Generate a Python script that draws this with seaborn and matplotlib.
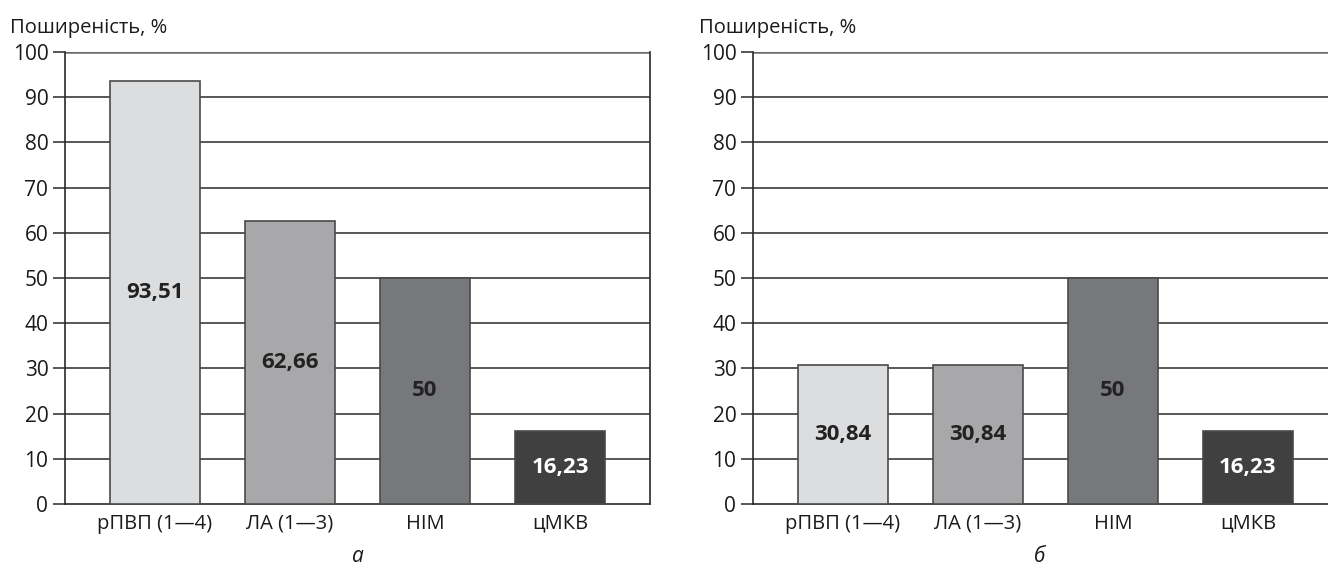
import seaborn as sns
import matplotlib.pyplot as plt
import pandas as pd

# data
categories = ["рПВП (1—4)", "ЛА (1—3)", "НІМ", "цМКВ"]
values_a = [93.51, 62.66, 50, 16.23]
values_b = [30.84, 30.84, 50, 16.23]
labels_a = ["93,51", "62,66", "50", "16,23"]
labels_b = ["30,84", "30,84", "50", "16,23"]
panel_names = ["а", "б"]
bar_colors = ["#dcdddf", "#a7a8ab", "#77787b", "#404040"]
label_colors = ["#222222", "#222222", "#222222", "#ffffff"]
y_ticks = list(range(0, 101, 10))

sns.set_theme(style="white")
plt.rcParams["font.family"] = ["Open Sans", "DejaVu Sans"]

fig = plt.figure(figsize=(13.28, 5.7), dpi=100)
ax_a = fig.add_axes([65 / 1328, 66 / 570, 585 / 1328, 452 / 570])
ax_b = fig.add_axes([753 / 1328, 66 / 570, 575 / 1328, 452 / 570])

panels = [
    (ax_a, values_a, labels_a, panel_names[0], 3.667, True),
    (ax_b, values_b, labels_b, panel_names[1], 3.594, False),
]

for ax, vals, labs, name, xmax, right_spine in panels:
    df = pd.DataFrame({"cat": categories, "val": vals})
    sns.barplot(data=df, x="cat", y="val", hue="cat", palette=bar_colors,
                width=0.667, edgecolor="#4a4a4a", linewidth=1.2,
                legend=False, zorder=3, ax=ax)

    # horizontal grid lines
    for t in y_ticks[1:]:
        ax.axhline(t, color="#6a6a6a" if t == 100 else "#2a2a2a",
                   lw=1.8 if t == 100 else 1.1, zorder=1)

    ax.set_xlim(-0.667, xmax)
    ax.set_ylim(0, 100)
    ax.set_yticks(y_ticks)
    ax.set_xlabel("")
    ax.set_ylabel("")
    ax.tick_params(axis="y", direction="out", length=9, width=1.1,
                   color="#2a2a2a", labelsize=15, pad=3, left=True)
    ax.tick_params(axis="x", length=0, labelsize=14.5, pad=7)
    for lab in ax.get_yticklabels() + ax.get_xticklabels():
        lab.set_color("#1a1a1a")

    ax.spines["top"].set_visible(False)
    ax.spines["right"].set_visible(right_spine)
    for s in ["left", "bottom", "right"]:
        ax.spines[s].set_color("#2a2a2a")
        ax.spines[s].set_linewidth(1.2)

    # value labels inside bars
    for i, (v, txt) in enumerate(zip(vals, labs)):
        ax.text(i, v / 2, txt, ha="center", va="center", fontsize=16,
                fontweight="bold", color=label_colors[i], zorder=4)

    ax.text(-55 / 585, 1.03, "Поширеність, %", transform=ax.transAxes,
            ha="left", va="bottom", fontsize=14.5, color="#1a1a1a")
    ax.text(0.5 if right_spine else 287 / 575, -0.128, name,
            transform=ax.transAxes, ha="center", va="baseline",
            fontsize=15, style="italic", color="#1a1a1a")

plt.savefig("out.png", dpi=100)
